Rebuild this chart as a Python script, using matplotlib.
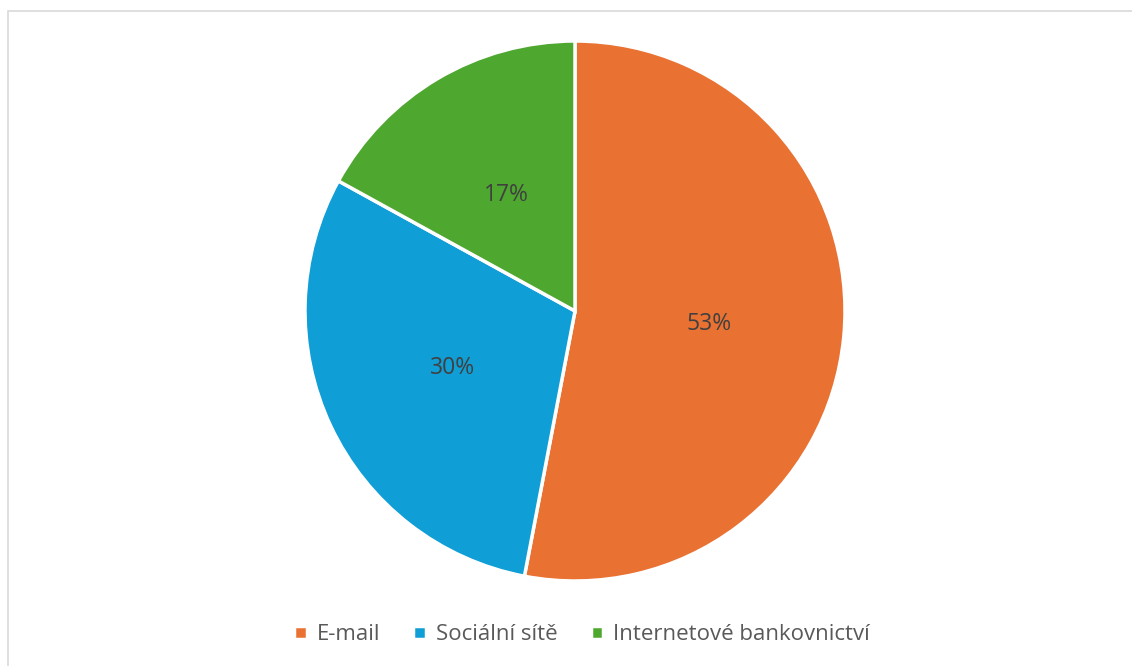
import matplotlib.pyplot as plt
from matplotlib.patches import Rectangle

kategorie = ["E-mail", "Sociální sítě", "Internetové bankovnictví"]
hodnoty = [53, 30, 17]
barvy = ["#E97132", "#0F9ED5", "#4EA72E"]

plt.rcParams['font.family'] = ['Open Sans', 'DejaVu Sans']

fig = plt.figure(figsize=(11.32, 6.66), dpi=100)
fig.patches.append(Rectangle((8 / 1132, -0.1), 1.2, (666 - 11) / 666 + 0.1,
                             transform=fig.transFigure, fill=False,
                             edgecolor="#d9d9d9", linewidth=1.2))

# pie centre ~ (575, 311) px, radius ~270 px
cx, cy, r = 575 / 1132, 1 - 311 / 666, 270
ax = fig.add_axes([cx - r / 1132, cy - r / 666, 2 * r / 1132, 2 * r / 666])
klinky, texty = ax.pie(hodnoty, colors=barvy, startangle=90, counterclock=False,
                       wedgeprops=dict(edgecolor="white", linewidth=2.5),
                       labels=[f"{h}%" for h in hodnoty], labeldistance=0.5,
                       textprops=dict(fontsize=16.5, color="#404040"))
for t in texty:
    t.set_horizontalalignment("center")
ax.set_xlim(-1, 1)
ax.set_ylim(-1, 1)
ax.set_aspect("equal")

fig.legend(klinky, kategorie, loc="center", bbox_to_anchor=(582 / 1132, 1 - 635 / 666),
           ncol=3, frameon=False, fontsize=16, labelcolor="#595959",
           handlelength=0.55, handleheight=0.55, handletextpad=0.45, columnspacing=1.5)

fig.savefig("out.png", dpi=100, facecolor="white")
